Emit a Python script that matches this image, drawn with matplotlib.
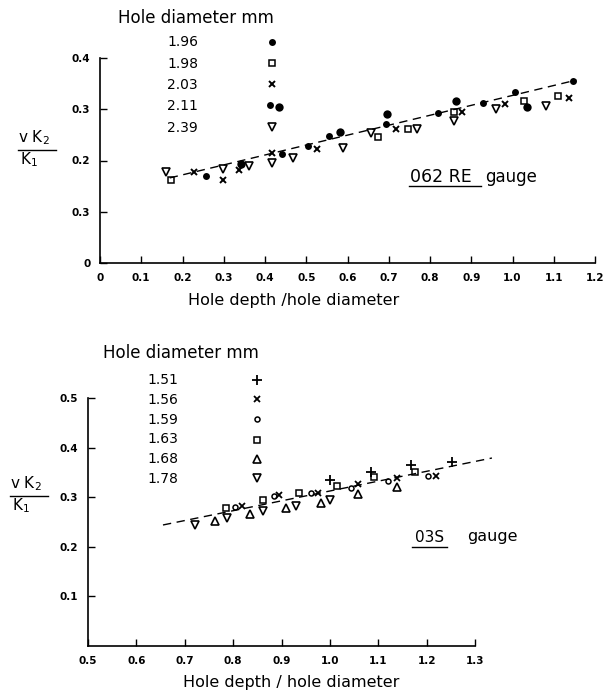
import matplotlib
matplotlib.use("Agg")
import matplotlib.pyplot as plt
from matplotlib.lines import Line2D

W, H = 604, 694

# ---- 062 RE gauge (top) ----
top_d196_x = [0.258, 0.442, 0.505, 0.556, 0.693, 0.819, 0.928, 1.007, 1.147]
top_d196_y = [0.169, 0.212, 0.229, 0.247, 0.272, 0.293, 0.313, 0.334, 0.355]
top_d198_x = [0.171, 0.674, 0.746, 0.857, 1.029, 1.111]
top_d198_y = [0.161, 0.245, 0.262, 0.295, 0.317, 0.326]
top_d203_x = [0.229, 0.297, 0.336, 0.418, 0.527, 0.717, 0.877, 0.983, 1.138]
top_d203_y = [0.177, 0.161, 0.181, 0.214, 0.223, 0.262, 0.295, 0.311, 0.322]
top_d211_x = [0.343, 0.582, 0.696, 0.862, 1.036]
top_d211_y = [0.194, 0.256, 0.291, 0.317, 0.305]
top_d239_x = [0.159, 0.297, 0.362, 0.418, 0.469, 0.589, 0.657, 0.768, 0.857, 0.959, 1.082]
top_d239_y = [0.177, 0.183, 0.190, 0.196, 0.204, 0.225, 0.254, 0.262, 0.278, 0.301, 0.307]
top_fit_x = [0.169, 1.155]
top_fit_y = [0.166, 0.357]
top_xticks = [0, 0.1, 0.2, 0.3, 0.4, 0.5, 0.6, 0.7, 0.8, 0.9, 1.0, 1.1, 1.2]
top_xlabels = ["0", "0.1", "0.2", "0.3", "0.4", "0.5", "0.6", "0.7", "0.8", "0.9", "1.0", "1.1", "1.2"]
top_yticks = [0, 0.1, 0.2, 0.3, 0.4]
top_ylabels = ["0", "0.3", "0.2", "0.3", "0.4"]   # as printed in the original
top_diams = ["1.96", "1.98", "2.03", "2.11", "2.39"]

# ---- 03S gauge (bottom) ----
bot_d151_x = [1.001, 1.086, 1.168, 1.253]
bot_d151_y = [0.335, 0.351, 0.365, 0.371]
bot_d156_x = [0.819, 0.895, 0.976, 1.059, 1.139, 1.220]
bot_d156_y = [0.283, 0.305, 0.309, 0.327, 0.339, 0.342]
bot_d159_x = [0.804, 0.885, 0.960, 1.043, 1.121, 1.202]
bot_d159_y = [0.281, 0.303, 0.309, 0.318, 0.333, 0.342]
bot_d163_x = [0.785, 0.862, 0.937, 1.014, 1.092, 1.175]
bot_d163_y = [0.279, 0.294, 0.309, 0.322, 0.340, 0.351]
bot_d168_x = [0.763, 0.835, 0.909, 0.982, 1.059, 1.139]
bot_d168_y = [0.252, 0.266, 0.279, 0.288, 0.307, 0.320]
bot_d178_x = [0.722, 0.787, 0.862, 0.931, 1.001]
bot_d178_y = [0.244, 0.258, 0.272, 0.283, 0.294]
bot_fit_x = [0.655, 1.335]
bot_fit_y = [0.244, 0.379]
bot_xticks = [0.5, 0.6, 0.7, 0.8, 0.9, 1.0, 1.1, 1.2, 1.3]
bot_xlabels = ["0.5", "0.6", "0.7", "0.8", "0.9", "1.0", "1.1", "1.2", "1.3"]
bot_yticks = [0.1, 0.2, 0.3, 0.4, 0.5]
bot_ylabels = ["0.1", "0.2", "0.3", "0.4", "0.5"]
bot_diams = ["1.51", "1.56", "1.59", "1.63", "1.68", "1.78"]

K = "black"
FONT = "DejaVu Sans"


def fx(x):
    return x / W


def fy(y):
    return 1 - y / H


def style_axes(ax, xticks, xlabels, yticks, ylabels):
    for s in ("top", "right"):
        ax.spines[s].set_visible(False)
    for s in ("left", "bottom"):
        ax.spines[s].set_linewidth(1.2)
    ax.set_xticks(xticks)
    ax.set_xticklabels(xlabels, fontweight="bold")
    ax.set_yticks(yticks)
    ax.set_yticklabels(ylabels, fontweight="bold")
    ax.tick_params(direction="in", length=5, width=1.0, labelsize=7.5, pad=7)
    ax.patch.set_visible(False)


def fig_marker(fig, x, y, marker, ms, filled=False, mew=1.1):
    fig.add_artist(Line2D([fx(x)], [fy(y)], marker=marker, ms=ms, color=K,
                          mew=0 if filled else mew,
                          mfc=K if filled else "none", linestyle="none"))


def frac_label(fig, x, y):
    fig.text(fx(x), fy(y), r"v K$_2$", fontsize=11, family=FONT, ha="left", va="center")
    fig.add_artist(Line2D([fx(x), fx(x + 38)], [fy(y + 12), fy(y + 12)], color=K, lw=1.0))
    fig.text(fx(x + 2), fy(y + 22), r"K$_1$", fontsize=11, family=FONT, ha="left", va="center")


fig = plt.figure(figsize=(W / 100, H / 100), dpi=100)

# ---------- top panel ----------
ax1 = fig.add_axes([fx(100), fy(263), fx(595) - fx(100), fy(58) - fy(263)])
ax1.set_xlim(0, 1.2)
ax1.set_ylim(0, 0.4)
style_axes(ax1, top_xticks, top_xlabels, top_yticks, top_ylabels)
ax1.plot(top_fit_x, top_fit_y, color=K, lw=1.0, dashes=(6, 4), clip_on=False)
ax1.plot(top_d196_x, top_d196_y, "o", ms=5, mew=0, color=K, clip_on=False)
ax1.plot(top_d211_x, top_d211_y, "o", ms=6, mew=0, color=K, clip_on=False)
ax1.plot(top_d198_x, top_d198_y, "s", ms=4.3, mfc="none", mec=K, mew=1.1, clip_on=False)
ax1.plot(top_d203_x, top_d203_y, "x", ms=4.3, color=K, mew=1.4, clip_on=False)
ax1.plot(top_d239_x, top_d239_y, "v", ms=5.5, mfc="none", mec=K, mew=1.2, clip_on=False)
fig.text(fx(294), fy(300), "Hole depth /hole diameter", fontsize=11.5, family=FONT,
         ha="center", va="center")

fig.text(fx(118), fy(18), "Hole diameter mm", fontsize=12, family=FONT, ha="left", va="center")
for i, d in enumerate(top_diams):
    fig.text(fx(167), fy(42 + 21.5 * i), d, fontsize=10, family=FONT, ha="left", va="center")
fig_marker(fig, 272, 42, "o", 5, filled=True)
fig_marker(fig, 272, 63, "s", 4.3)
fig_marker(fig, 272, 84, "x", 4.3, mew=1.4)
fig_marker(fig, 270, 105, "o", 5, filled=True)
fig_marker(fig, 279, 107, "o", 6, filled=True)
fig_marker(fig, 272, 127, "v", 5.5, mew=1.2)
frac_label(fig, 18, 138)

fig.text(fx(410), fy(177), "062 RE", fontsize=12.5, family=FONT, ha="left", va="center")
fig.add_artist(Line2D([fx(409), fx(481)], [fy(186), fy(186)], color=K, lw=1.0))
fig.text(fx(485), fy(177), "gauge", fontsize=12, family=FONT, ha="left", va="center")

# ---------- bottom panel ----------
ax2 = fig.add_axes([fx(88), fy(646), fx(475) - fx(88), fy(398) - fy(646)])
ax2.set_xlim(0.5, 1.3)
ax2.set_ylim(0, 0.5)
style_axes(ax2, bot_xticks, bot_xlabels, bot_yticks, bot_ylabels)
ax2.plot(bot_fit_x, bot_fit_y, color=K, lw=1.0, dashes=(6, 4), clip_on=False)
ax2.plot(bot_d151_x, bot_d151_y, "+", ms=6.5, color=K, mew=1.3, clip_on=False)
ax2.plot(bot_d156_x, bot_d156_y, "x", ms=4.3, color=K, mew=1.3, clip_on=False)
ax2.plot(bot_d159_x, bot_d159_y, "o", ms=3.6, mfc="none", mec=K, mew=1.1, clip_on=False)
ax2.plot(bot_d163_x, bot_d163_y, "s", ms=4.3, mfc="none", mec=K, mew=1.1, clip_on=False)
ax2.plot(bot_d168_x, bot_d168_y, "^", ms=5.3, mfc="none", mec=K, mew=1.2, clip_on=False)
ax2.plot(bot_d178_x, bot_d178_y, "v", ms=5.3, mfc="none", mec=K, mew=1.2, clip_on=False)
fig.text(fx(291), fy(683), "Hole depth / hole diameter", fontsize=11.5, family=FONT,
         ha="center", va="center")

fig.text(fx(103), fy(353), "Hole diameter mm", fontsize=12, family=FONT, ha="left", va="center")
for i, d in enumerate(bot_diams):
    fig.text(fx(147), fy(380 + 19.8 * i), d, fontsize=10, family=FONT, ha="left", va="center")
fig_marker(fig, 257, 380, "+", 6.5, mew=1.3)
fig_marker(fig, 257, 399, "x", 4.3, mew=1.3)
fig_marker(fig, 257, 419, "o", 3.6)
fig_marker(fig, 257, 440, "s", 4.3)
fig_marker(fig, 257, 459, "^", 5.3, mew=1.2)
fig_marker(fig, 257, 478, "v", 5.3, mew=1.2)
frac_label(fig, 10, 484)

fig.text(fx(415), fy(537), "03S", fontsize=11, family=FONT, ha="left", va="center")
fig.add_artist(Line2D([fx(412), fx(447)], [fy(547), fy(547)], color=K, lw=1.0))
fig.text(fx(467), fy(537), "gauge", fontsize=11.5, family=FONT, ha="left", va="center")

fig.savefig("out.png", dpi=100)
